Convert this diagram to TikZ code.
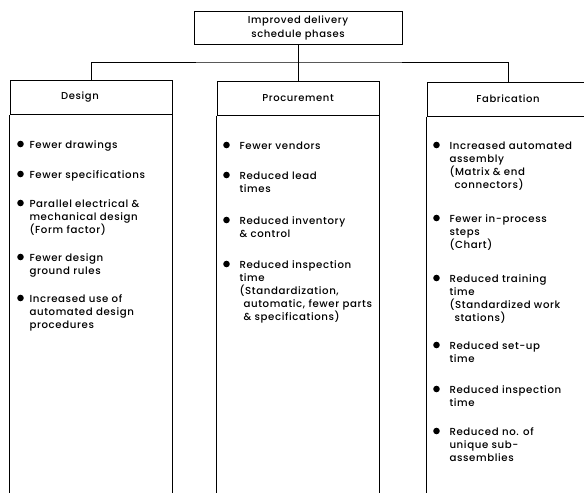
\documentclass[tikz,border=0pt]{standalone}
\usepackage{fontspec}
\setmainfont[LetterSpace=6, UprightFont=* Medium]{Poppins}
\usetikzlibrary{positioning}

\tikzset{
    phase/.style={draw, line width=1pt, minimum width=162pt, minimum height=34pt, inner sep=0pt, font=\fontsize{10}{14.5}\selectfont},
    itm/.style={anchor=north west, align=left, inner sep=0pt, font=\fontsize{10.2}{13}\selectfont},
}

\begin{document}
\begin{tikzpicture}[x=1pt, y=-1pt, line width=1pt]
    \useasboundingbox (0,0) rectangle (584,493);
    \clip (0,0) rectangle (584,493);
    \node[phase, minimum width=208pt, minimum height=33pt, align=center] (top) at (298,28) {Improved delivery\\schedule phases};
    \node[phase] (design) at (91,97.5) {\kern-22pt Design};
    \node[phase] (proc) at (298,98) {Procurement};
    \node[phase] (fab) at (508,99) {Fabrication};
    \coordinate (bus) at (298,62);
    \draw (top.south) -- (bus);
    \draw (design.north) |- (bus) -| (fab.north);
    \draw (bus) -- (proc.north);
    \foreach \n in {design,proc,fab}
    {
        \draw (\n.south west) -- (\n.south west |- 0,493);
        \draw (\n.south east) -- (\n.south east |- 0,493);
    }
    \foreach \y/\t [count=\i] in {144/{Fewer drawings}, 174/{Fewer specifications},
        203/{Parallel electrical \&\\mechanical design\\(Form factor)},
        257/{Fewer design\\ground rules}, 298/{Increased use of\\automated design\\procedures}}
    {
        \node[itm] (d\i) at (29,\y-4) {\t};
        \fill ([shift={(-8.5,4)}]d\i.north west) circle (3.3pt);
    }
    \foreach \y/\t [count=\i] in {145/{Fewer vendors}, 175/{Reduced lead\\times},
        220/{Reduced inventory\\\& control},
        264/{Reduced inspection\\time\\(Standardization,\\\hspace*{4pt}automatic, fewer parts\\\hspace*{4pt}\& specifications)}}
    {
        \node[itm] (p\i) at (239,\y-4) {\t};
        \fill ([shift={(-12.5,4)}]p\i.north west) circle (3.3pt);
    }
    \foreach \y/\t [count=\i] in {145/{Increased automated\\assembly\\(Matrix \& end\\\hspace*{5pt}connectors)},
        218/{Fewer in-process\\steps\\(Chart)},
        278/{Reduced training\\time\\(Standardized work\\\hspace*{5pt}stations)},
        345/{Reduced set-up\\time}, 389/{Reduced inspection\\time},
        431/{Reduced no. of\\unique sub-\\assemblies}}
    {
        \node[itm] (f\i) at (449,\y-4) {\t};
        \fill ([shift={(-12.5,4)}]f\i.north west) circle (3.3pt);
    }
\end{tikzpicture}
\end{document}
